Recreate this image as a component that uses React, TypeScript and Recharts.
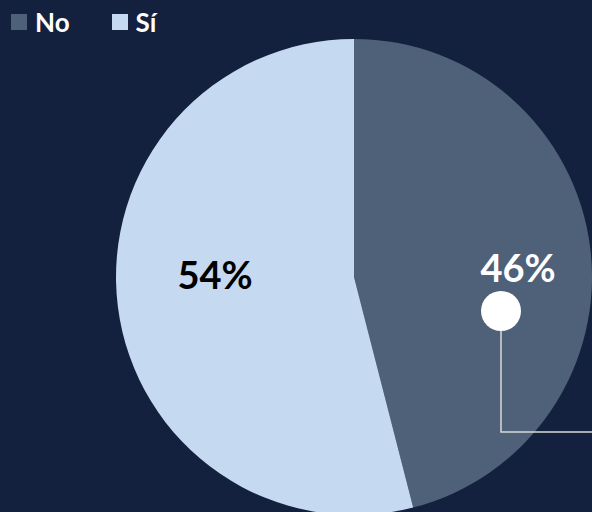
import { PieChart, Pie, Cell, Legend } from "recharts";

const categories = ["No", "Sí"];
const shares = [46, 54];

const COLORS = ["#4f6079", "#c5d9f0"];
const LABEL_COLORS = ["#ffffff", "#000000"];
const BG = "#13213f";
const FONT = "Lato, 'Open Sans', sans-serif";

const data = categories.map((name, i) => ({ name, value: shares[i] }));

// label nudges (relative to the pie centre) so they sit like the original
const LABEL_POS = [
  { dx: 164, dy: -10 },
  { dx: -139, dy: -3 },
];

function renderLabel(props: any) {
  const { cx, cy, index, value } = props;
  const p = LABEL_POS[index];
  const x = cx + p.dx;
  const y = cy + p.dy;
  return (
    <g key={`lbl-${index}`}>
      <text
        x={x}
        y={y}
        fill={LABEL_COLORS[index]}
        textAnchor="middle"
        dominantBaseline="central"
        fontFamily={FONT}
        fontWeight={700}
        fontSize={38}
      >
        {value}%
      </text>
      {index === 0 && (
        <g>
          <polyline
            points={`${cx + 147},${cy + 54} ${cx + 147},${cy + 155} ${cx + 240},${cy + 155}`}
            fill="none"
            stroke="#d9d9d9"
            strokeWidth={1.5}
          />
          <circle cx={cx + 147} cy={cy + 34} r={20} fill="#ffffff" />
        </g>
      )}
    </g>
  );
}

function renderLegend() {
  return (
    <div style={{ display: "flex", fontFamily: FONT, fontWeight: 700, fontSize: 26, lineHeight: "30px", color: "#ffffff" }}>
      {data.map((d, i) => (
        <div key={d.name} style={{ display: "flex", alignItems: "center", marginRight: i === 0 ? 42 : 0 }}>
          <span style={{ display: "inline-block", width: 16, height: 16, background: COLORS[i], marginRight: 8 }} />
          <span>{d.name}</span>
        </div>
      ))}
    </div>
  );
}

export default function App() {
  return (
    <div style={{ width: 592, height: 512, background: BG, overflow: "hidden" }}>
      <style>{`body{margin:0;}`}</style>
      <PieChart width={592} height={512} margin={{ top: 0, right: 0, bottom: 0, left: 0 }}>
        <Legend
          content={renderLegend}
          verticalAlign="top"
          align="left"
          wrapperStyle={{ top: 7, left: 11, width: "auto", height: 34 }}
        />
        <Pie
          data={data}
          dataKey="value"
          nameKey="name"
          cx={354}
          cy={243}
          outerRadius={238}
          startAngle={90}
          endAngle={-270}
          stroke="none"
          labelLine={false}
          label={renderLabel}
          isAnimationActive={false}
        >
          {data.map((_, i) => (
            <Cell key={i} fill={COLORS[i]} />
          ))}
        </Pie>
      </PieChart>
    </div>
  );
}
